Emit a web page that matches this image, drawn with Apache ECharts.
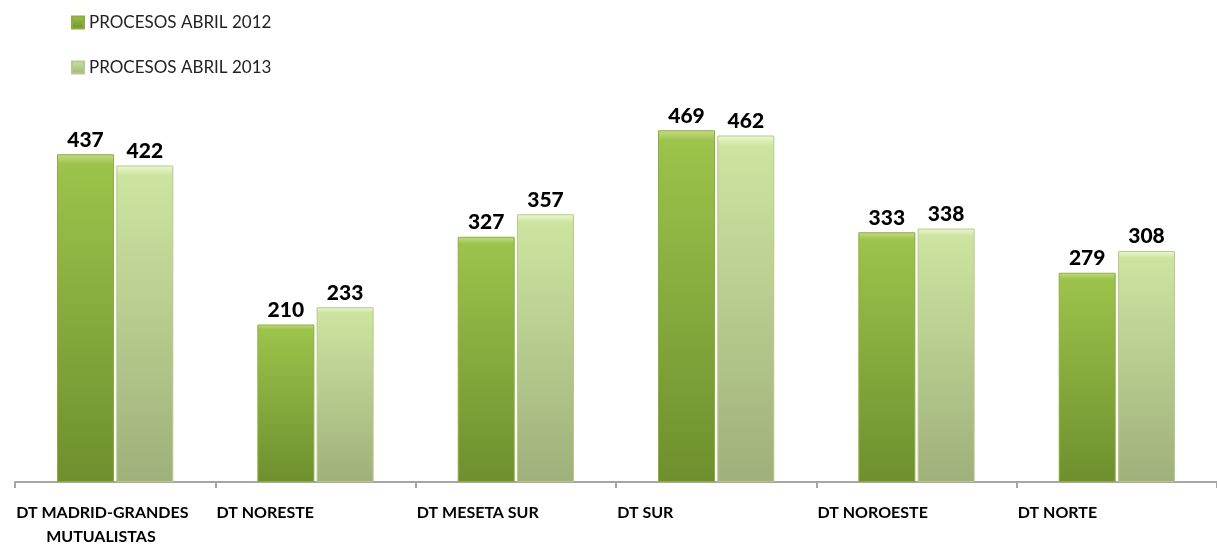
<!DOCTYPE html>
<html lang="es">
<head>
    <meta charset="utf-8">
    <title>Procesos abril 2012 / 2013</title>
    <script src="https://cdn.jsdelivr.net/npm/echarts@6/dist/echarts.min.js"></script>
    <style>
        * { margin: 0; padding: 0; box-sizing: border-box; }
        html, body { width: 100%; height: 100%; background: #fff; }
        #main { width: 1217px; height: 546px; }
    </style>
</head>
<body>
    <div id="main"></div>
<script>
    const categories = ['DT MADRID-GRANDES\nMUTUALISTAS', 'DT NORESTE', 'DT MESETA SUR', 'DT SUR', 'DT NOROESTE', 'DT NORTE'];
    const procesos2012 = [437, 210, 327, 469, 333, 279];
    const procesos2013 = [422, 233, 357, 462, 338, 308];
    const seriesNames = ['PROCESOS ABRIL 2012', 'PROCESOS ABRIL 2013'];

    const grad = (top, mid, bottom) => new echarts.graphic.LinearGradient(0, 0, 0, 1, [
        { offset: 0, color: top },
        { offset: 0.03, color: mid },
        { offset: 1, color: bottom }
    ]);

    const labelStyle = {
        show: true,
        position: 'top',
        distance: 4,
        color: '#000',
        fontFamily: 'Lato',
        fontWeight: 900,
        fontSize: 21
    };

    const chart = echarts.init(document.getElementById('main'));

    chart.setOption({
        animation: false,
        textStyle: { fontFamily: 'Lato' },
        legend: {
            orient: 'vertical',
            left: 66,
            top: 9,
            itemWidth: 12,
            itemHeight: 12,
            itemGap: 28,
            icon: 'rect',
            textStyle: { fontSize: 17, color: '#222', fontFamily: 'Lato' },
            data: seriesNames
        },
        grid: { left: 15, right: 0, top: 107, bottom: 64, containLabel: false, outerBoundsMode: 'none' },
        xAxis: {
            type: 'category',
            data: categories,
            axisLine: { lineStyle: { color: '#a6a6a6', width: 2 } },
            axisTick: { show: true, length: 6, lineStyle: { color: '#a6a6a6', width: 2 } },
            axisLabel: {
                interval: 0,
                align: 'left',
                margin: 19,
                padding: [0, 0, 0, -99],
                formatter: (v) => {
                    const parts = v.split('\n');
                    if (parts.length > 1) return '{a|' + parts[0] + '}\n{b|' + parts[1] + '}';
                    return '{a|' + v + '}';
                },
                rich: {
                    a: { fontFamily: 'Lato', fontWeight: 'bold', fontSize: 16, color: '#000', lineHeight: 24 },
                    b: { fontFamily: 'Lato', fontWeight: 'bold', fontSize: 16, color: '#000', lineHeight: 24, padding: [0, 0, 0, 30] }
                }
            }
        },
        yAxis: {
            type: 'value',
            min: 0,
            max: 500,
            show: false,
            splitLine: { show: false }
        },
        series: [
            {
                name: seriesNames[0],
                type: 'bar',
                data: procesos2012,
                barWidth: 57,
                barGap: '4%',
                itemStyle: {
                    color: grad('#c4dc86', '#9cc34b', '#6e8f2d'),
                    borderColor: '#8cae3e',
                    borderWidth: 1
                },
                label: labelStyle
            },
            {
                name: seriesNames[1],
                type: 'bar',
                data: procesos2013,
                barWidth: 57,
                itemStyle: {
                    color: grad('#eef7cf', '#cde4a0', '#9fb07a'),
                    borderColor: '#b6c98e',
                    borderWidth: 1
                },
                label: labelStyle
            }
        ]
    });
</script>
</body>
</html>
